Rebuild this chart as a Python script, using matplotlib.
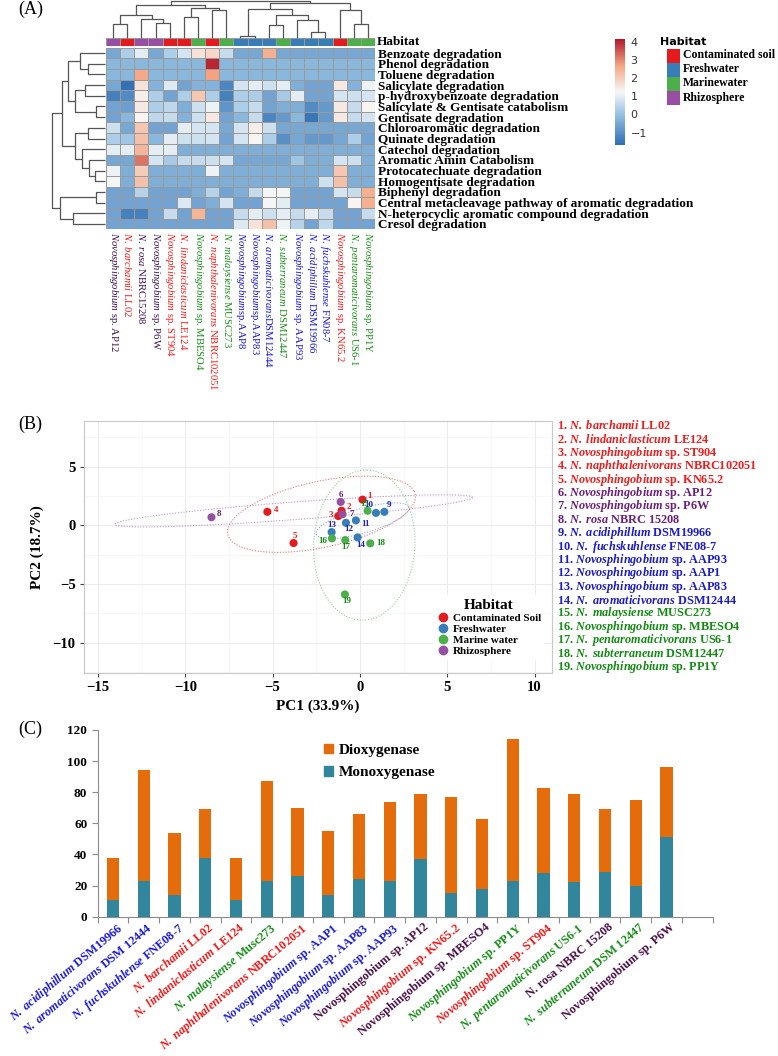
import numpy as np
import matplotlib
matplotlib.use("Agg")
import matplotlib.pyplot as plt
from matplotlib.colors import LinearSegmentedColormap, ListedColormap
from matplotlib.patches import Rectangle, Patch
from matplotlib.lines import Line2D

plt.rcParams['font.family'] = ['Liberation Serif', 'DejaVu Serif']
plt.rcParams['mathtext.fontset'] = 'custom'
plt.rcParams['mathtext.rm'] = 'Liberation Serif'
plt.rcParams['mathtext.it'] = 'Liberation Serif:italic'
plt.rcParams['mathtext.bf'] = 'Liberation Serif:bold'
plt.rcParams['mathtext.bfit'] = 'Liberation Serif:italic:bold'

# ---------------- data: panel A (heatmap) ----------------
pathways = ["Benzoate degradation", "Phenol degradation", "Toluene degradation",
            "Salicylate degradation", "p-hydroxybenzoate degradation",
            "Salicylate & Gentisate catabolism", "Gentisate degradation",
            "Chloroaromatic degradation", "Quinate degradation", "Catechol degradation",
            "Aromatic Amin Catabolism", "Protocatechuate degradation",
            "Homogentisate degradation", "Biphenyl degradation",
            "Central metacleavage pathway of aromatic degradation",
            "N-heterocyclic aromatic compound degradation", "Cresol degradation"]

hm_name = ["Novosphingobium", "N. barchamii", "N. rosa", "Novosphingobium", "Novosphingobium",
           "N. lindaniclasticum", "Novosphingobium", "N. naphthalenivorans", "N. malaysiense",
           "Novosphingobium", "Novosphingobium", "N. aromaticivorans", "N. subterraneum",
           "Novosphingobium", "N. acidiphillum", "N. fuchskuhlense", "Novosphingobium",
           "N. pentaromaticivorans", "Novosphingobium"]
hm_strain = ["sp. AP12", "LL02", "NBRC15208", "sp. P6W", "sp. ST904", "LE124", "sp. MBESO4",
             "NBRC102051", "MUSC273", "sp.AAP8", "sp.AAP83", "DSM12444", "DSM12447",
             "sp. AAP93", "DSM19966", "FN08-7", "sp. KN65.2", "US6-1", "sp. PP1Y"]
# 0 contaminated soil, 1 freshwater, 2 marine water, 3 rhizosphere
hm_habitat = [3, 0, 3, 3, 0, 0, 2, 0, 2, 1, 1, 1, 2, 1, 1, 1, 0, 2, 2]

hm_values = np.array([
    [-0.5, 0.3, 1.0, -0.5, 0.3, 0.8, 1.6, 1.8, 0.6, -0.5, -0.5, 2.5, -0.5, -0.5, -0.5, -0.5, -0.5, -0.5, -0.5],
    [-0.2, -0.2, -0.2, -0.2, -0.2, -0.2, -0.2, 4.0, -0.2, -0.2, -0.2, -0.2, -0.2, -0.2, -0.2, -0.2, -0.2, -0.2, -0.2],
    [-0.2, -0.2, 2.6, -0.2, -0.2, -0.2, -0.2, 2.7, -0.2, -0.2, -0.2, -0.2, -0.2, -0.2, -0.2, -0.2, -0.2, -0.2, -0.2],
    [-0.5, -1.6, 1.6, -0.3, 0.9, -0.6, -0.3, -0.3, -1.2, 0.8, 1.0, 0.7, 1.0, -0.4, -0.6, -0.6, 1.5, -0.3, 1.1],
    [-1.3, -1.1, 1.4, 0.3, -0.6, 0.3, 2.1, 0.3, -1.3, 0.3, 0.3, -0.6, 0.2, 1.0, -0.6, -0.6, 0.8, 0.7, 0.8],
    [-0.6, -0.7, 1.5, 0.3, 0.5, -0.4, 0.7, 1.1, -0.9, 0.3, 0.6, -0.6, -0.4, -0.4, -1.1, -0.8, 1.5, 0.6, 1.3],
    [-0.6, -0.2, 1.3, 0.5, 0.6, -0.3, 0.7, 1.5, -0.6, -0.2, 0.6, -1.2, -0.8, -0.2, -1.5, -0.8, 1.5, 0.6, 0.8],
    [0.7, -0.5, 2.1, -0.6, -0.6, 1.0, 0.8, 0.8, -0.5, 0.8, 1.4, 0.7, -0.5, -0.5, -0.5, -0.5, -0.5, -0.5, -0.5],
    [0.3, 0.1, 2.2, -0.2, 1.0, 0.7, 0.7, 0.8, -0.6, 0.8, 1.3, 0.3, -1.0, -0.5, -0.8, -0.8, -0.5, 0.3, -0.6],
    [1.0, 1.0, 2.4, 1.0, 1.0, -0.4, -0.4, -0.4, -0.4, -0.4, -0.4, -0.4, -0.4, -0.4, -0.4, -0.4, -0.4, -0.4, -0.4],
    [-0.5, -0.5, 3.2, 0.8, 0.2, 0.6, 0.6, 0.7, 0.8, -0.5, -0.5, -0.5, -0.5, 0.1, -0.4, -0.4, 0.8, 0.7, -0.4],
    [1.1, -0.4, 2.0, -0.4, -0.4, -0.4, -0.4, 1.1, -0.4, -0.4, -0.4, -0.4, -0.4, -0.4, -0.4, -0.4, 2.1, -0.4, -0.4],
    [1.2, -0.4, 2.2, -0.4, -0.4, -0.4, -0.4, -0.4, -0.4, -0.4, -0.4, -0.4, -0.4, -0.4, -0.4, 0.7, 2.2, -0.4, -0.4],
    [-0.6, -0.6, 0.4, -0.6, -0.6, -0.6, -0.4, 0.4, -0.6, -0.4, 0.6, 1.2, 1.2, -0.6, -0.6, -0.6, 0.8, 0.6, 2.5],
    [-0.6, -0.6, -0.6, -0.6, -0.6, 0.9, -0.6, -0.4, 0.8, -0.6, -0.6, 1.2, 1.0, -0.6, -0.6, -0.6, -0.6, 1.3, 2.5],
    [-0.6, -1.3, -1.3, -0.6, 0.6, -0.6, 2.4, -0.6, -0.6, 0.6, 1.0, 0.7, 1.0, 0.6, 1.0, 0.6, -0.6, -0.6, 0.6],
    [-0.6, -0.6, -0.6, -0.6, -0.6, -0.6, -0.6, -0.6, -0.6, 0.9, 1.6, 2.2, 1.1, 0.4, -0.6, 0.5, -0.6, -0.6, -0.6],
])

# dendrograms as (left, right, merge height), leaves are column / row indices
col_tree = ((((0, 1, 0.37), (2, (3, 4, 0.39), 0.52), 0.61),
             ((5, 6, 0.57), (7, 8, 0.74), 0.81), 0.87),
            (((9, 10, 0.06), ((11, 12, 0.35), (13, (14, 15, 0.15), 0.48), 0.61), 0.78),
             (16, (17, 18, 0.37), 0.74), 0.93), 1.0)
row_tree = ((((0, (1, 2, 0.32), 0.47), ((3, 4, 0.38), (5, 6, 0.16), 0.57), 0.69),
             ((7, 8, 0.32), (9, (10, (11, 12, 0.19), 0.30), 0.44), 0.57), 0.81),
            ((13, 14, 0.16), (15, 16, 0.60), 0.84), 1.0)

habitats_a = ["Contaminated soil", "Freshwater", "Marinewater", "Rhizosphere"]
habitats_b = ["Contaminated Soil", "Freshwater", "Marine water", "Rhizosphere"]

# ---------------- data: panel B (PCA) ----------------
pc1 = [0.15, -1.05, -1.24, -5.3, -3.8, -1.1, -1.0, -8.5, 1.4, 0.92,
       -0.23, -0.8, -1.62, -0.13, 0.44, -1.6, -0.84, 0.59, -0.86]
pc2 = [2.2, 1.25, 0.8, 1.16, -1.5, 2.0, 0.95, 0.7, 1.16, 1.07,
       0.43, 0.22, -0.57, -1.02, 1.25, -1.1, -1.25, -1.53, -5.88]
pc_habitat = [0, 0, 0, 0, 0, 3, 3, 3, 1, 1, 1, 1, 1, 1, 2, 2, 2, 2, 2]
pc_name = ["N. barchamii", "N. lindaniclasticum", "Novosphingobium", "N. naphthalenivorans",
           "Novosphingobium", "Novosphingobium", "Novosphingobium", "N. rosa",
           "N. acidiphillum", "N. fuchskuhlense", "Novosphingobium", "Novosphingobium",
           "Novosphingobium", "N. aromaticivorans", "N. malaysiense", "Novosphingobium",
           "N. pentaromaticivorans", "N. subterraneum", "Novosphingobium"]
pc_strain = ["LL02", "LE124", "sp. ST904", "NBRC102051", "sp. KN65.2", "sp. AP12", "sp. P6W",
             "NBRC 15208", "DSM19966", "FNE08-7", "sp. AAP93", "sp. AAP1", "sp. AAP83",
             "DSM12444", "MUSC273", "sp. MBESO4", "US6-1", "DSM12447", "sp. PP1Y"]
# habitat ellipses (contaminated, freshwater, marine, rhizosphere), read in data units
ell_cx = [-2.2, 0.15, 0.25, -3.8]
ell_cy = [0.95, 0.4, -1.68, 1.24]
ell_a = [5.66, 2.9, 6.4, 10.3]
ell_b = [2.73, 1.0, 2.9, 0.75]
ell_angle = [20.7, 25.0, 88.7, 6.4]

# ---------------- data: panel C (bars) ----------------
c_name = ["N. acidiphillum", "N. aromaticivorans", "N. fuchskuhlense", "N. barchamii",
          "N. lindaniclasticum", "N. malaysiense", "N. naphthalenivorans", "Novosphingobium",
          "Novosphingobium", "Novosphingobium", "Novosphingobium", "Novosphingobium",
          "Novosphingobium", "Novosphingobium", "Novosphingobium", "N. pentaromaticivorans",
          "N. rosa", "N. subterraneum", "Novosphingobium"]
c_strain = ["DSM19966", "DSM 12444", "FNE08-7", "LL02", "LE124", "Musc273", "NBRC102051",
            "sp. AAP1", "sp. AAP83", "sp. AAP93", "sp. AP12", "sp. KN65.2", "sp. MBESO4",
            "sp. PP1Y", "sp. ST904", "US6-1", "NBRC 15208", "DSM 12447", "sp. P6W"]
c_group = [1, 1, 1, 0, 0, 2, 0, 1, 1, 1, 3, 0, 3, 2, 0, 2, 3, 2, 3]
monoxygenase = [11, 23, 14, 38, 11, 23, 26, 14, 24, 23, 37, 15, 18, 23, 28, 22, 29, 20, 51]
dioxygenase = [27, 71, 40, 31, 27, 64, 44, 41, 42, 51, 42, 62, 45, 91, 55, 57, 40, 55, 45]

# ---------------- styling ----------------
W, H = 778, 1056
hab_colors = ["#e41a1c", "#377eb8", "#4daf4a", "#984ea3"]
txt_a = ["#f01818", "#1414d8", "#168c16", "#3c0c50"]
txt_b = ["#ee1c1c", "#1c1cc8", "#138a13", "#6a1f7a"]
txt_c = ["#f01818", "#1a1ad8", "#168c16", "#4a0f45"]


def rect(x0, y0, x1, y1):
    return [x0 / W, 1 - y1 / H, (x1 - x0) / W, (y1 - y0) / H]


def label(name, strain, bold=False, italic=True):
    nm = name.replace(" ", r"\ ")
    if not italic:
        return name + " " + strain
    if bold:
        return r"$\mathbfit{" + nm + "}$ " + strain
    sep = "" if strain.startswith("sp.AAP") or strain == "DSM12444" else " "
    return r"$\mathit{" + nm + "}$" + sep + strain


def draw_tree(ax, node, vertical):
    if isinstance(node, int):
        return node + 0.5, 0.0
    a, b, h = node
    pa, ha = draw_tree(ax, a, vertical)
    pb, hb = draw_tree(ax, b, vertical)
    xs, ys = [pa, pa, pb, pb], [ha, h, h, hb]
    if vertical:
        ax.plot(xs, ys, color="#555555", lw=0.9, clip_on=False, solid_capstyle="butt")
    else:
        ax.plot(ys, xs, color="#555555", lw=0.9, clip_on=False, solid_capstyle="butt")
    return (pa + pb) / 2, h


fig = plt.figure(figsize=(W / 100, H / 100), dpi=100)

# ================= Panel A =================
cmap = LinearSegmentedColormap.from_list(
    "hm", [(0, "#2e6eb5"), (0.3, "#9cc5e4"), (0.5, "#f7f7f7"), (0.75, "#f4a582"), (1, "#b2182b")])
vmin, vmax = -1.68, 4.15

ax_hm = fig.add_axes(rect(106, 47.7, 375, 229.3))
ax_hm.pcolormesh(hm_values, cmap=cmap, vmin=vmin, vmax=vmax, edgecolors="#9a9a9a", linewidth=0.5)
ax_hm.set_xlim(0, 19)
ax_hm.set_ylim(17, 0)
ax_hm.set_xticks([])
ax_hm.set_yticks(np.arange(17) + 0.5)
ax_hm.set_yticklabels(pathways, fontweight="bold", fontsize=9.5)
ax_hm.yaxis.tick_right()
ax_hm.tick_params(length=0, pad=2)
for s in ax_hm.spines.values():
    s.set_visible(False)
for i in range(19):
    ax_hm.text(i + 0.5, -0.015, label(hm_name[i], hm_strain[i]), transform=ax_hm.get_xaxis_transform(),
               rotation=270, ha="center", va="top", fontsize=7.7, color=txt_a[hm_habitat[i]])

ax_bar = fig.add_axes(rect(106, 38.3, 375, 46))
ax_bar.pcolormesh([hm_habitat], cmap=ListedColormap(hab_colors), vmin=-0.5, vmax=3.5,
                  edgecolors="#9a9a9a", linewidth=0.5)
ax_bar.set_xlim(0, 19)
ax_bar.axis("off")
ax_bar.text(1.005, 0.5, "Habitat", transform=ax_bar.transAxes, va="center", ha="left",
            fontsize=9.5, fontweight="bold")

ax_cd = fig.add_axes(rect(106, 0.5, 375, 38))
draw_tree(ax_cd, col_tree, True)
ax_cd.set_xlim(0, 19)
ax_cd.set_ylim(0, 1)
ax_cd.axis("off")

ax_rd = fig.add_axes(rect(51.7, 47.7, 105, 229.3))
draw_tree(ax_rd, row_tree, False)
ax_rd.set_xlim(1, 0)
ax_rd.set_ylim(17, 0)
ax_rd.axis("off")

ax_cb = fig.add_axes(rect(615, 39, 625, 145))
sm = plt.cm.ScalarMappable(cmap=cmap, norm=plt.Normalize(vmin, vmax))
cb = fig.colorbar(sm, cax=ax_cb, ticks=[-1, 0, 1, 2, 3, 4])
cb.outline.set_visible(False)
cb.ax.tick_params(length=0, pad=4, labelsize=8, labelcolor="#333333")
for t in cb.ax.get_yticklabels():
    t.set_family("DejaVu Sans")

ax_lg = fig.add_axes(rect(658, 34, 778, 108))
ax_lg.set_xlim(0, 120)
ax_lg.set_ylim(74, 0)
ax_lg.axis("off")
ax_lg.text(2, 8, "Habitat", fontsize=8, fontweight="bold", family="DejaVu Sans", va="center")
for k, hname in enumerate(habitats_a):
    ax_lg.add_patch(Rectangle((9, 14.5 + 14 * k), 13, 14, facecolor=hab_colors[k], edgecolor="none"))
    ax_lg.text(25, 21.5 + 14 * k, hname, fontsize=8.5, fontweight="bold", va="center")

fig.text(18 / W, 1 - 9 / H, "(A)", fontsize=13, va="center")

# ================= Panel B =================
ax_b = fig.add_axes(rect(84, 421, 552, 672.7))
t = np.linspace(0, 2 * np.pi, 200)
for k in range(4):
    th = np.radians(ell_angle[k])
    ex = ell_cx[k] + ell_a[k] * np.cos(t) * np.cos(th) - ell_b[k] * np.sin(t) * np.sin(th)
    ey = ell_cy[k] + ell_a[k] * np.cos(t) * np.sin(th) + ell_b[k] * np.sin(t) * np.cos(th)
    ax_b.plot(ex, ey, ls=(0, (1, 1.5)), lw=0.8, color=hab_colors[k], alpha=0.6)
ax_b.scatter(pc1, pc2, c=[hab_colors[k] for k in pc_habitat], s=34, zorder=3, linewidths=0)
lab_off = [(7, 4), (7, 4), (-7, 1), (9, 2), (1, 7), (0, 7), (9, 0), (8, 3), (5, 7), (-7, 8),
           (10, -4), (3, -6), (0, 7), (3, -8), (-3, 7), (-9, -3), (1, -7), (11, 0), (2, -7)]
for i in range(19):
    ax_b.annotate(str(i + 1), (pc1[i], pc2[i]), xytext=lab_off[i], textcoords="offset pixels",
                  ha="center", va="center", fontsize=6.5, fontweight="bold",
                  color=txt_b[pc_habitat[i]], zorder=4)
ax_b.set_xlim(-15.8, 11.0)
ax_b.set_ylim(-12.55, 8.9)
ax_b.set_xticks([-15, -10, -5, 0, 5, 10])
ax_b.set_yticks([-10, -5, 0, 5])
ax_b.set_xticks(np.arange(-12.5, 11, 5), minor=True)
ax_b.set_yticks(np.arange(-12.5, 9, 5), minor=True)
ax_b.grid(which="major", color="#ebebeb", lw=0.7)
ax_b.grid(which="minor", color="#f4f4f4", lw=0.5)
ax_b.set_axisbelow(True)
ax_b.tick_params(which="major", length=3, color="#444444", labelsize=10.5, pad=3)
ax_b.tick_params(which="minor", length=0)
for tl in ax_b.get_xticklabels() + ax_b.get_yticklabels():
    tl.set_fontweight("bold")
for s in ax_b.spines.values():
    s.set_color("#c8c8c8")
ax_b.set_xlabel("PC1 (33.9%)", fontsize=11, fontweight="bold", labelpad=4)
ax_b.set_ylabel("PC2 (18.7%)", fontsize=11, fontweight="bold", labelpad=6)
handles = [Line2D([], [], marker="o", ls="", color=c, markersize=6) for c in hab_colors]
leg = ax_b.legend(handles, habitats_b, title="Habitat", loc="lower right",
                  bbox_to_anchor=(0.995, 0.03), frameon=True, prop={"weight": "bold", "size": 8},
                  title_fontproperties={"weight": "bold", "size": 11}, labelspacing=0.12,
                  handletextpad=0.3, borderpad=0.3, handlelength=1.2)
leg.get_frame().set_facecolor("white")
leg.get_frame().set_edgecolor("none")
leg.get_frame().set_alpha(1)

for i in range(19):
    fig.text(557 / W, 1 - (426 + 13.39 * i) / H,
             f"{i + 1}. " + label(pc_name[i], pc_strain[i], bold=True),
             fontsize=8.8, fontweight="bold", color=txt_b[pc_habitat[i]], va="center")

fig.text(18 / W, 1 - 424 / H, "(B)", fontsize=13, va="center")

# ================= Panel C =================
ax_c = fig.add_axes(rect(97.7, 730, 712.7, 916.7))
xpos = np.arange(19) + 0.5
ax_c.bar(xpos, monoxygenase, width=0.4, color="#31869b", label="Monoxygenase")
ax_c.bar(xpos, dioxygenase, width=0.4, bottom=monoxygenase, color="#e46c0a", label="Dioxygenase")
ax_c.set_xlim(0, 20)
ax_c.set_ylim(0, 120)
ax_c.set_yticks(np.arange(0, 121, 20))
ax_c.set_xticks(np.arange(0, 21))
ax_c.set_xticklabels([])
ax_c.tick_params(axis="both", length=4, color="#8c8c8c", width=0.8, labelsize=9.5)
for tl in ax_c.get_yticklabels():
    tl.set_fontweight("bold")
for s in ["top", "right"]:
    ax_c.spines[s].set_visible(False)
for s in ["left", "bottom"]:
    ax_c.spines[s].set_color("#8c8c8c")
for i in range(19):
    ax_c.annotate(label(c_name[i], c_strain[i], bold=True, italic=c_group[i] != 3),
                  (xpos[i], 0), xytext=(3, -4), textcoords="offset pixels",
                  ha="right", va="top", rotation=40, rotation_mode="anchor",
                  fontsize=8.8, fontweight="bold", color=txt_c[c_group[i]])
ax_c.legend([Patch(color="#e46c0a"), Patch(color="#31869b")], ["Dioxygenase", "Monoxygenase"],
            loc="upper left", bbox_to_anchor=(0.345, 1.0), frameon=False,
            prop={"weight": "bold", "size": 11}, handlelength=0.6, handleheight=0.6,
            labelspacing=0.6, handletextpad=0.4)

fig.text(18 / W, 1 - 729 / H, "(C)", fontsize=13, va="center")

fig.savefig("out.png", dpi=100)
